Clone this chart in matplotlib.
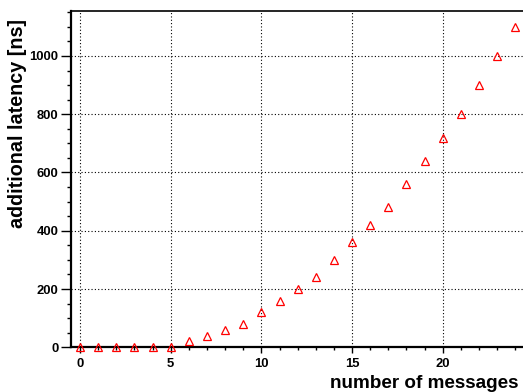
import matplotlib
matplotlib.use("Agg")
import matplotlib.pyplot as plt
from matplotlib.ticker import MultipleLocator

plt.rcParams['font.family'] = ['Liberation Sans', 'DejaVu Sans']
plt.rcParams['font.weight'] = 'bold'

# number of queued messages and the resulting extra latency
messages = list(range(25))
latency_ns = [0, 0, 0, 0, 0, 0, 20, 40, 60, 80, 120, 160, 200, 240, 300,
              360, 420, 480, 560, 640, 720, 800, 900, 1000, 1100]

x_label = "number of messages"
y_label = "additional latency [ns]"

W, H = 523, 392
fig = plt.figure(figsize=(W / 100, H / 100), dpi=100)
ax = fig.add_axes([71 / W, 44.7 / H, 452 / W, 336.5 / H])

ax.plot(messages, latency_ns, linestyle='none', marker='^', markersize=6.2,
        markerfacecolor='none', markeredgecolor='#ff0000', markeredgewidth=0.9,
        clip_on=False, zorder=5)

ax.set_xlim(-0.5, 24.43)
ax.set_ylim(0, 1155)

ax.xaxis.set_major_locator(MultipleLocator(5))
ax.xaxis.set_minor_locator(MultipleLocator(1))
ax.yaxis.set_major_locator(MultipleLocator(200))
ax.yaxis.set_minor_locator(MultipleLocator(50))

ax.grid(True, which='major', color='black', linestyle=(0, (1, 2)), linewidth=0.8)

for side in ('left', 'bottom'):
    ax.spines[side].set_linewidth(1.6)
ax.spines['top'].set_linewidth(1.2)
ax.spines['right'].set_visible(False)

ax.tick_params(axis='y', which='major', direction='out', length=7, width=1.0,
               labelsize=9.4, pad=2)
ax.tick_params(axis='y', which='minor', direction='out', length=3, width=1.0)
ax.tick_params(axis='x', which='major', direction='out', length=4.5, width=1.0,
               labelsize=9.4, pad=3)
ax.tick_params(axis='x', which='minor', direction='out', length=2.2, width=1.0)
ax.tick_params(top=False, right=False, which='both')

for lbl in ax.get_xticklabels() + ax.get_yticklabels():
    lbl.set_fontweight('bold')

# axis titles placed at the axis ends
fig.text(519 / W, 3.5 / H, x_label, fontsize=13.6, fontweight='bold',
         ha='right', va='baseline')
fig.text(18 / W, 1 - 19 / H, y_label, fontsize=14.2, fontweight='bold',
         rotation=90, ha='center', va='top')

fig.savefig("out.png", dpi=100)
